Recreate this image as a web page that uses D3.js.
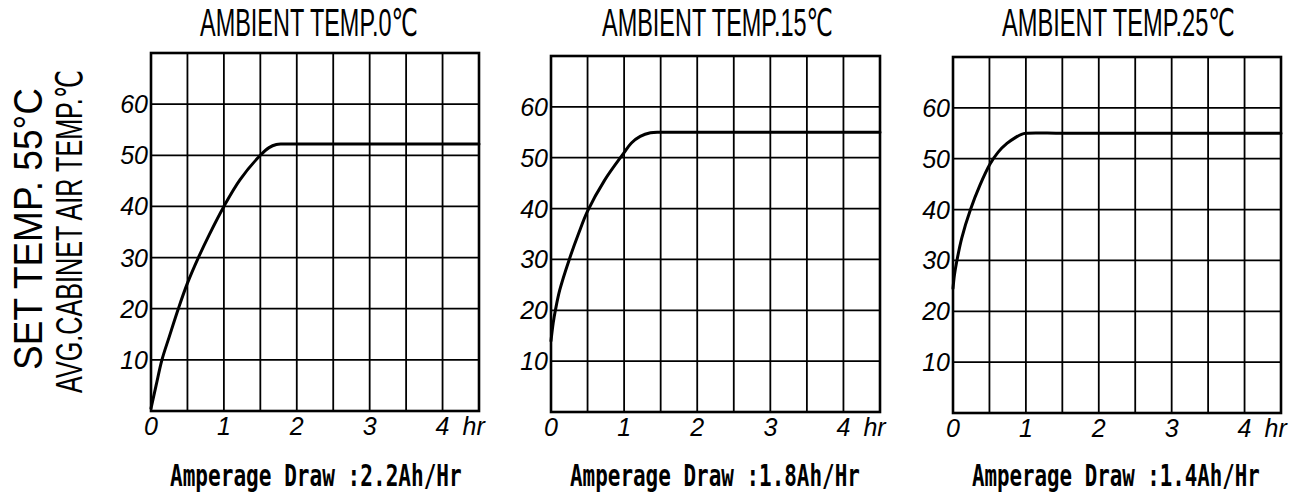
<!DOCTYPE html>
<html>
<head>
<meta charset="utf-8">
<script src="https://cdn.jsdelivr.net/npm/d3@7"></script>
<style>
  html, body { margin: 0; padding: 0; background: #fff; }
  svg { display: block; }
</style>
</head>
<body>
<svg id="chart" width="1301" height="494"></svg>
<script>
// ---------- data ----------
const titles = ["AMBIENT TEMP.0℃", "AMBIENT TEMP.15℃", "AMBIENT TEMP.25℃"];
const amperageLabels = ["Amperage Draw :2.2Ah/Hr", "Amperage Draw :1.8Ah/Hr", "Amperage Draw :1.4Ah/Hr"];
const yTitleOuter = "SET TEMP. 55°C";
const yTitleInner = "AVG.CABINET AIR TEMP.℃";
const xTickLabels = [0, 1, 2, 3, 4];
const yTickLabels = [10, 20, 30, 40, 50, 60];
const xGridHours = [0, 0.5, 1, 1.5, 2, 2.5, 3, 3.5, 4, 4.5];
const yGridTemps = [0, 10, 20, 30, 40, 50, 60, 70];

// ambient 0 °C
const hours0 = [0, 0.07, 0.15, 0.25, 0.375, 0.5, 0.65, 0.8, 1.0, 1.22, 1.5, 1.62, 1.72, 1.8, 2.0, 3.0, 4.0, 4.5];
const temps0 = [0.5, 5, 10, 14.5, 20, 25, 30, 34.5, 40, 45.2, 50, 51.5, 52.1, 52.2, 52.2, 52.2, 52.2, 52.2];
// ambient 15 °C
const hours1 = [0, 0.03, 0.06, 0.12, 0.25, 0.38, 0.5, 0.73, 0.99, 1.1, 1.22, 1.36, 1.5, 2.0, 3.0, 4.0, 4.5];
const temps1 = [14, 17.5, 20, 24, 30, 35.2, 39.5, 45.5, 50.8, 52.9, 54.2, 54.9, 55, 55, 55, 55, 55];
// ambient 25 °C
const hours2 = [0, 0.02, 0.05, 0.12, 0.24, 0.37, 0.51, 0.62, 0.74, 0.86, 0.94, 1.0, 1.5, 2.5, 3.5, 4.5];
const temps2 = [24.5, 27.2, 29.7, 34.4, 40, 44.8, 49, 51.3, 53, 54.2, 54.8, 55, 55, 55, 55, 55];

const seriesHours = [hours0, hours1, hours2];
const seriesTemps = [temps0, temps1, temps2];

// ---------- layout ----------
const panels = [
  { left: 151, top: 53, right: 479, bottom: 411, titleX: 200, titleW: 218, ampX: 170, ampW: 292 },
  { left: 551, top: 56, right: 880, bottom: 412, titleX: 602, titleW: 231, ampX: 570, ampW: 290 },
  { left: 953, top: 57, right: 1281, bottom: 413, titleX: 1002, titleW: 233, ampX: 972, ampW: 288 }
];

const svg = d3.select("#chart");
svg.append("rect").attr("width", 1301).attr("height", 494).attr("fill", "#fff");

const narrow = "'Liberation Sans', 'DejaVu Sans', 'Noto Sans CJK SC', sans-serif";
const mono = "'DejaVu Sans Mono', 'Liberation Mono', monospace";
const italic = "'Liberation Sans', Arial, sans-serif";

// text squeezed horizontally to a target width (like the condensed lettering of the original)
function squeezed(parent, str, opts) {
  const g = parent.append("g");
  const t = g.append("text")
    .attr("x", 0).attr("y", 0)
    .attr("text-anchor", opts.anchor || "start")
    .attr("font-family", opts.family)
    .attr("font-size", opts.size)
    .attr("font-weight", opts.weight || "normal")
    .attr("fill", "#000")
    .text(str);
  const w = t.node().getComputedTextLength();
  const sx = opts.width / w;
  g.attr("transform", `translate(${opts.x},${opts.y}) rotate(${opts.rotate || 0}) scale(${sx},1)`);
  return g;
}

// y-axis titles
squeezed(svg, yTitleOuter, { x: 42, y: 229, rotate: -90, anchor: "middle", family: "'Liberation Sans', sans-serif", size: 40, width: 282 });
squeezed(svg, yTitleInner, { x: 82, y: 231.5, rotate: -90, anchor: "middle", family: narrow, size: 37, width: 323 });

panels.forEach((p, i) => {
  const x = d3.scaleLinear().domain([0, 4.5]).range([p.left, p.right]);
  const y = d3.scaleLinear().domain([0, 70]).range([p.bottom, p.top]);
  const g = svg.append("g");

  // grid
  g.selectAll("line.vx").data(xGridHours).join("line")
    .attr("x1", d => x(d)).attr("x2", d => x(d))
    .attr("y1", p.top).attr("y2", p.bottom)
    .attr("stroke", "#000").attr("stroke-width", 1.8);
  g.selectAll("line.hy").data(yGridTemps).join("line")
    .attr("class", "hy")
    .attr("x1", p.left).attr("x2", p.right)
    .attr("y1", d => y(d)).attr("y2", d => y(d))
    .attr("stroke", "#000").attr("stroke-width", 1.8);

  // frame
  g.append("rect")
    .attr("x", p.left).attr("y", p.top)
    .attr("width", p.right - p.left).attr("height", p.bottom - p.top)
    .attr("fill", "none").attr("stroke", "#000").attr("stroke-width", 2.6);

  // curve
  const pts = seriesHours[i].map((h, k) => [h, seriesTemps[i][k]]);
  const line = d3.line().x(d => x(d[0])).y(d => y(d[1])).curve(d3.curveCatmullRom.alpha(0.5));
  g.append("path").attr("d", line(pts))
    .attr("fill", "none").attr("stroke", "#000").attr("stroke-width", 3)
    .attr("stroke-linejoin", "round").attr("stroke-linecap", "round");

  // y tick labels
  g.selectAll("text.yt").data(yTickLabels).join("text")
    .attr("x", p.left - 3).attr("y", d => y(d) + 9)
    .attr("text-anchor", "end")
    .attr("font-family", italic).attr("font-style", "italic")
    .attr("font-size", 25).attr("fill", "#000")
    .text(d => d);

  // x tick labels
  g.selectAll("text.xt").data(xTickLabels).join("text")
    .attr("x", d => x(d)).attr("y", p.bottom + 24)
    .attr("text-anchor", "middle")
    .attr("font-family", italic).attr("font-style", "italic")
    .attr("font-size", 25).attr("fill", "#000")
    .text(d => d);

  g.append("text")
    .attr("x", x(4) + 20).attr("y", p.bottom + 24)
    .attr("font-family", italic).attr("font-style", "italic")
    .attr("font-size", 25).attr("fill", "#000")
    .text("hr");

  // title
  squeezed(g, titles[i], { x: p.titleX, y: 35.5, family: narrow, size: 38, width: p.titleW });

  // amperage label
  squeezed(g, amperageLabels[i], { x: p.ampX, y: 486, family: mono, size: 30, weight: "bold", width: p.ampW });
});
</script>
</body>
</html>
